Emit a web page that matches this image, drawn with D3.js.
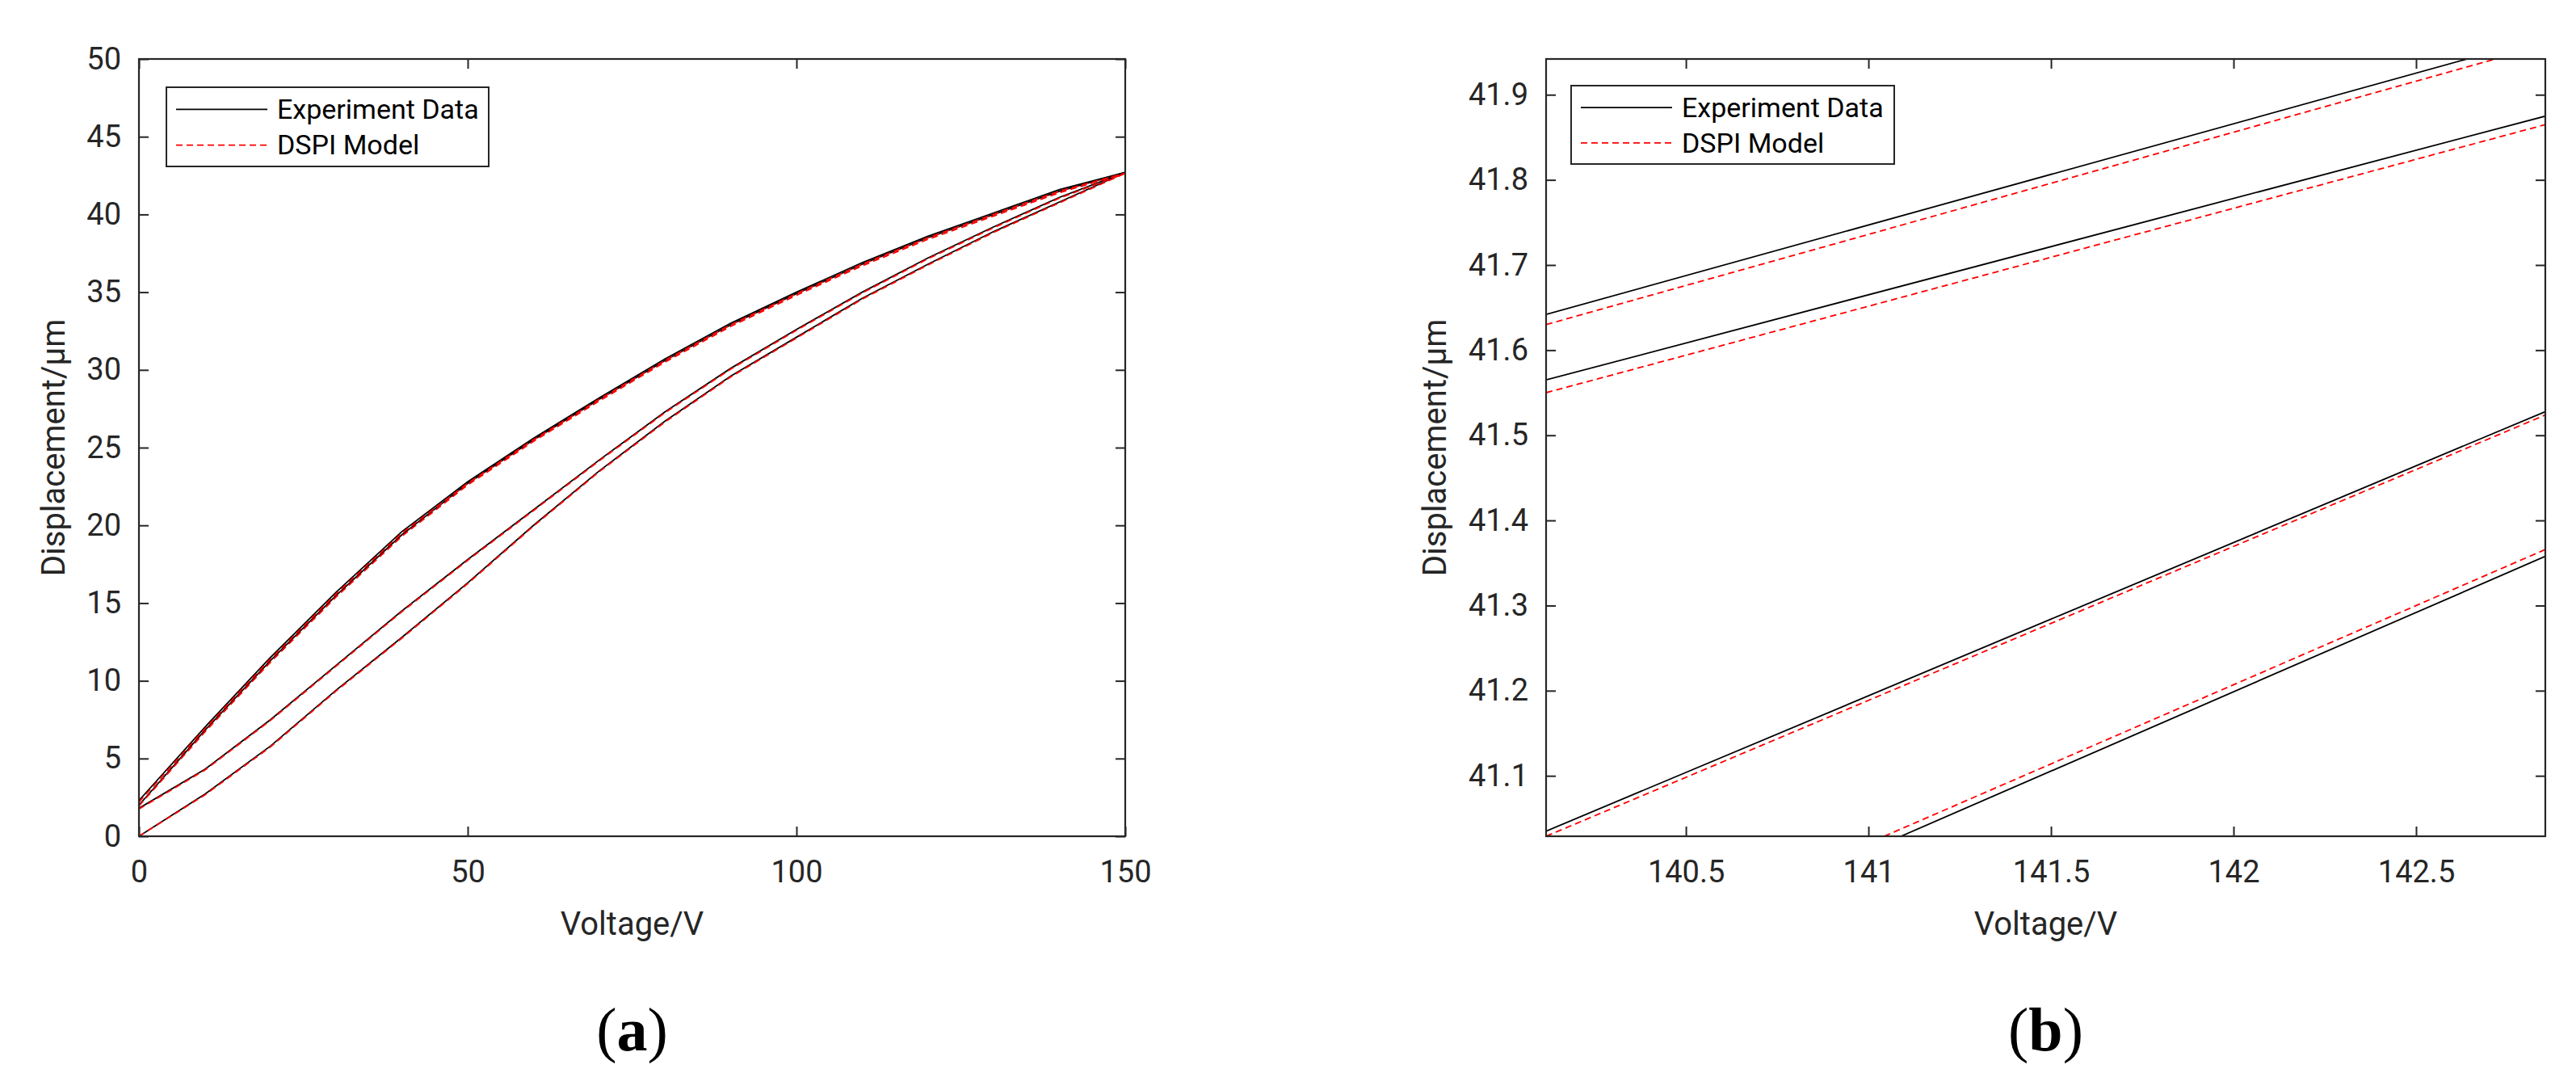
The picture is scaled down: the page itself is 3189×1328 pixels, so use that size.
<!DOCTYPE html>
<html><head><meta charset="utf-8">
<script src="https://cdn.jsdelivr.net/npm/d3@7"></script>
<style>body{margin:0;background:#fff}</style></head>
<body><svg id="c" width="3189" height="1328"></svg>
<script>
// ---- Panel (a) data ----
const voltsA = [0,10,20,30,40,50,60,70,80,90,100,110,120,130,140,150];
const ascLow = [0,2.7,5.8,9.4,12.8,16.3,20.0,23.5,26.7,29.6,32.1,34.6,36.8,38.9,40.8,42.7];
const ascMid = [1.8,4.3,7.5,11,14.5,17.8,21,24.2,27.3,30.1,32.6,35,37.2,39.2,41.1,42.7];
const descHi1 = [2.3,7.0,11.5,15.7,19.6,22.8,25.6,28.2,30.7,33,35,36.9,38.6,40.1,41.6,42.7];
const descHi2 = [2.0,6.8,11.3,15.5,19.4,22.7,25.5,28.1,30.6,32.9,34.9,36.8,38.5,40.0,41.5,42.7];
const modAscLow = [0,2.65,5.75,9.35,12.75,16.25,19.95,23.45,26.65,29.55,32.05,34.55,36.75,38.85,40.75,42.65];
const modAscMid = [1.75,4.25,7.45,10.95,14.45,17.75,20.95,24.15,27.25,30.05,32.55,34.95,37.15,39.15,41.05,42.65];
const modDescHi1 = [2.2,6.9,11.4,15.6,19.5,22.7,25.5,28.1,30.6,32.9,34.9,36.8,38.5,40.0,41.5,42.65];
const modDescHi2 = [1.95,6.7,11.2,15.4,19.3,22.6,25.4,28.0,30.5,32.8,34.8,36.7,38.4,39.9,41.4,42.65];
const yTicksA = [0,5,10,15,20,25,30,35,40,45,50];
const xTicksA = [0,50,100,150];
// ---- Panel (b) data (segment endpoints) ----
const expB = [
  [[140.117,41.642],[142.64,41.942]],
  [[140.117,41.565],[142.855,41.875]],
  [[140.117,41.035],[142.855,41.528]],
  [[141.089,41.029],[142.855,41.358]]
];
const modB = [
  [[140.117,41.630],[142.717,41.942]],
  [[140.117,41.550],[142.855,41.865]],
  [[140.117,41.029],[142.855,41.524]],
  [[141.043,41.029],[142.855,41.366]]
];
const yTicksB = [41.1,41.2,41.3,41.4,41.5,41.6,41.7,41.8,41.9];
const xTicksB = [140.5,141,141.5,142,142.5];

const svg = d3.select("#c");
const F = "Roboto, 'Liberation Sans', Arial, sans-serif";

function panel(o){
  const g = svg.append("g");
  const x = d3.scaleLinear().domain(o.xd).range([o.l,o.r]);
  const y = d3.scaleLinear().domain(o.yd).range([o.b,o.t]);
  const defs = g.append("defs");
  const cid = "clip"+o.id;
  defs.append("clipPath").attr("id",cid).append("rect")
    .attr("x",o.l).attr("y",o.t).attr("width",o.r-o.l).attr("height",o.b-o.t);
  const line = d3.line().x(d=>x(d[0])).y(d=>y(d[1]));
  const lg = g.append("g").attr("clip-path",`url(#${cid})`);
  o.exp.forEach(s=>lg.append("path").attr("d",line(s)).attr("fill","none").attr("stroke","#000").attr("stroke-width",1.8));
  o.mod.forEach(s=>lg.append("path").attr("d",line(s)).attr("fill","none").attr("stroke","#ff0000").attr("stroke-width",1.8).attr("stroke-dasharray","8,5"));
  const tl = 12;
  const ax = g.append("g").attr("transform",`translate(0,${o.b})`).call(d3.axisBottom(x).tickValues(o.xt).tickSize(-tl).tickPadding(30).tickFormat(d=>String(d)));
  const axT = g.append("g").attr("transform",`translate(0,${o.t})`).call(d3.axisTop(x).tickValues(o.xt).tickSize(-tl).tickFormat(""));
  const ay = g.append("g").attr("transform",`translate(${o.l},0)`).call(d3.axisLeft(y).tickValues(o.yt).tickSize(-tl).tickPadding(22).tickFormat(d=>String(d)));
  const ayR = g.append("g").attr("transform",`translate(${o.r},0)`).call(d3.axisRight(y).tickValues(o.yt).tickSize(-tl).tickFormat(""));
  [ax,axT,ay,ayR].forEach(a=>{a.selectAll(".domain").remove();a.selectAll("line").attr("stroke","#262626").attr("stroke-width",2);
    a.selectAll("text").attr("font-family",F).attr("font-size",38).attr("fill","#262626");});
  g.append("rect").attr("x",o.l).attr("y",o.t).attr("width",o.r-o.l).attr("height",o.b-o.t)
    .attr("fill","none").attr("stroke","#262626").attr("stroke-width",2.2);
  g.append("text").attr("x",(o.l+o.r)/2).attr("y",o.b+122).attr("text-anchor","middle")
    .attr("font-family",F).attr("font-size",40).attr("fill","#262626").text("Voltage/V");
  g.append("text").attr("transform",`translate(${o.ylx},${(o.t+o.b)/2}) rotate(-90)`).attr("text-anchor","middle")
    .attr("font-family",F).attr("font-size",40).attr("fill","#262626").text("Displacement/μm");
  const L = o.leg;
  g.append("rect").attr("x",L[0]).attr("y",L[1]).attr("width",L[2]-L[0]).attr("height",L[3]-L[1]).attr("fill","#fff").attr("stroke","#262626").attr("stroke-width",2);
  const r1 = L[1]+(L[3]-L[1])*0.28, r2 = L[1]+(L[3]-L[1])*0.73;
  g.append("line").attr("x1",L[0]+12).attr("x2",L[0]+125).attr("y1",r1).attr("y2",r1).attr("stroke","#000").attr("stroke-width",1.8);
  g.append("line").attr("x1",L[0]+12).attr("x2",L[0]+125).attr("y1",r2).attr("y2",r2).attr("stroke","#ff0000").attr("stroke-width",1.8).attr("stroke-dasharray","8,5");
  [["Experiment Data",r1],["DSPI Model",r2]].forEach(([t,yy])=>g.append("text").attr("x",L[0]+137).attr("y",yy).attr("dy","0.35em")
    .attr("font-family",F).attr("font-size",34).attr("fill","#000").text(t));
  const cap = g.append("text").attr("x",(o.l+o.r)/2).attr("y",1300).attr("text-anchor","middle")
    .attr("font-family","'Liberation Serif', 'DejaVu Serif', serif").attr("font-size",76).attr("fill","#000");
  cap.append("tspan").text("(");
  cap.append("tspan").attr("font-weight","bold").text(o.cap);
  cap.append("tspan").text(")");
}

const zip = (xs,ys)=>xs.map((v,i)=>[v,ys[i]]);
panel({id:"a",l:172,r:1393,t:73,b:1035,xd:[0,150],yd:[0,50],xt:xTicksA,yt:yTicksA,ylx:80,
  exp:[zip(voltsA,ascLow),zip(voltsA,ascMid),zip(voltsA,descHi1),zip(voltsA,descHi2)],
  mod:[zip(voltsA,modAscLow),zip(voltsA,modAscMid),zip(voltsA,modDescHi1),zip(voltsA,modDescHi2)],
  leg:[206,108,605,206],cap:"a"});
panel({id:"b",l:1914,r:3151,t:73,b:1035,xd:[140.117,142.854],yd:[41.029,41.942],xt:xTicksB,yt:yTicksB,ylx:1790,
  exp:expB,mod:modB,leg:[1945,106,2345,203],cap:"b"});
</script></body></html>
